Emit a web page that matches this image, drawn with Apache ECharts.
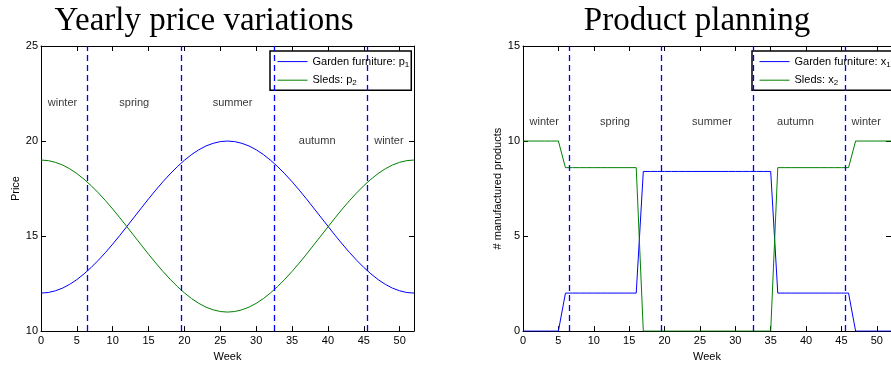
<!DOCTYPE html>
<html>
<head>
<meta charset="utf-8">
<script src="https://cdn.jsdelivr.net/npm/echarts@6/dist/echarts.min.js"></script>
<style>
  html, body { margin: 0; padding: 0; background: #fff; }
  #main { width: 891px; height: 367px; }
</style>
</head>
<body>
<div id="main"></div>
<script>
// weeks 0..52
const weeks = [0,1,2,3,4,5,6,7,8,9,10,11,12,13,14,15,16,17,18,19,20,21,22,23,24,25,26,
  27,28,29,30,31,32,33,34,35,36,37,38,39,40,41,42,43,44,45,46,47,48,49,50,51,52]

// yearly prices
const gardenPrice = [12.00,12.03,12.12,12.26,12.46,12.71,13.01,13.35,13.73,14.14,14.58,15.04,15.52,16.00,
  16.48,16.96,17.42,17.86,18.27,18.65,18.99,19.29,19.54,19.74,19.88,19.97,20.00,
  19.97,19.88,19.74,19.54,19.29,18.99,18.65,18.27,17.86,17.42,16.96,16.48,16.00,
  15.52,15.04,14.58,14.14,13.73,13.35,13.01,12.71,12.46,12.26,12.12,12.03,12.00]
const sledPrice = [19.00,18.97,18.88,18.74,18.54,18.29,17.99,17.65,17.27,16.86,16.42,15.96,15.48,15.00,
  14.52,14.04,13.58,13.14,12.73,12.35,12.01,11.71,11.46,11.26,11.12,11.03,11.00,
  11.03,11.12,11.26,11.46,11.71,12.01,12.35,12.73,13.14,13.58,14.04,14.52,15.00,
  15.48,15.96,16.42,16.86,17.27,17.65,17.99,18.29,18.54,18.74,18.88,18.97,19.00]

// production plan
const gardenProd = [0,0,0,0,0,0,2,2,2,2,2,2,2,2,2,2,2,8.4,8.4,8.4,8.4,8.4,8.4,8.4,8.4,8.4,8.4,
  8.4,8.4,8.4,8.4,8.4,8.4,8.4,8.4,8.4,2,2,2,2,2,2,2,2,2,2,2,0,0,0,0,0,0]
const sledProd = [10,10,10,10,10,10,8.6,8.6,8.6,8.6,8.6,8.6,8.6,8.6,8.6,8.6,8.6,0,0,0,0,0,0,0,0,0,0,
  0,0,0,0,0,0,0,0,0,8.6,8.6,8.6,8.6,8.6,8.6,8.6,8.6,8.6,8.6,8.6,10,10,10,10,10,10]

const seasonBounds = [6.5, 19.5, 32.5, 45.5]
const seasonNames = ['winter', 'spring', 'summer', 'autumn', 'winter']
const seasonWeek = [3, 13, 26.7, 38.5, 48.5]
const seasonYLeft = [22, 22, 22, 20, 20]
const seasonYRight = [11, 11, 11, 11, 11]

const BLUE = '#0000ff'
const GREEN = '#008000'
const FONT = 'Liberation Sans'

function pairs(xs, ys) {
  return xs.map((x, i) => [x, ys[i]])
}

function frameAxis(gi, pos, min, max, extra) {
  const ax = {
    gridIndex: gi,
    type: 'value',
    position: pos,
    min: min,
    max: max,
    interval: 5,
    axisLine: { show: true, onZero: false, lineStyle: { color: '#000', width: 1 } },
    axisTick: { show: true, inside: true, length: 5, lineStyle: { color: '#000' } },
    axisLabel: { show: false },
    splitLine: { show: false }
  }
  return Object.assign(ax, extra || {})
}

const tickLabel = { show: true, color: '#000', fontSize: 11, fontFamily: FONT, margin: 4 }
const nameStyle = { color: '#000', fontSize: 11, fontFamily: FONT }

const xAxes = []
const yAxes = []
;[0, 1].forEach(gi => {
  xAxes.push(frameAxis(gi, 'bottom', 0, 52, {
    axisLabel: Object.assign({}, tickLabel, { showMaxLabel: false }),
    name: 'Week', nameLocation: 'middle', nameGap: 16, nameTextStyle: nameStyle
  }))
  xAxes.push(frameAxis(gi, 'top', 0, 52))
})
yAxes.push(frameAxis(0, 'left', 10, 25, {
  axisLabel: Object.assign({}, tickLabel, { margin: 3 }),
  name: 'Price', nameLocation: 'middle', nameGap: 20, nameTextStyle: nameStyle
}))
yAxes.push(frameAxis(0, 'right', 10, 25))
yAxes.push(frameAxis(1, 'left', 0, 15, {
  axisLabel: Object.assign({}, tickLabel, { margin: 3 }),
  name: '# manufactured products', nameLocation: 'middle', nameGap: 20, nameTextStyle: nameStyle
}))
yAxes.push(frameAxis(1, 'right', 0, 15))

const seasonLines = {
  silent: true,
  symbol: 'none',
  label: { show: false },
  lineStyle: { color: BLUE, type: [6, 4], width: 1.3 },
  data: seasonBounds.map(w => ({ xAxis: w }))
}

function seasonSeries(xi, yi, ys) {
  return {
    type: 'scatter',
    xAxisIndex: xi,
    yAxisIndex: yi,
    symbolSize: 0,
    silent: true,
    data: seasonNames.map((n, i) => [seasonWeek[i], ys[i], n]),
    label: {
      show: true,
      position: 'inside',
      formatter: p => p.value[2],
      color: '#000',
      fontSize: 11,
      fontFamily: FONT
    }
  }
}

function lineSeries(name, xi, yi, data, color, withMarks) {
  const s = {
    name: name,
    type: 'line',
    xAxisIndex: xi,
    yAxisIndex: yi,
    symbol: 'none',
    data: data,
    lineStyle: { color: color, width: 1 },
    itemStyle: { color: color },
    z: 3
  }
  if (withMarks) s.markLine = seasonLines
  return s
}

const legendNames = {
  p1: '{t|Garden furniture: p}{s|1}',
  p2: '{t|Sleds: p}{s|2}',
  x1: '{t|Garden furniture: x}{s|1}',
  x2: '{t|Sleds: x}{s|2}'
}

function legend(left, names) {
  return {
    orient: 'vertical',
    left: left,
    top: 51,
    data: names,
    itemWidth: 30,
    itemHeight: 14,
    itemGap: 6,
    padding: [5, 2, 3, 7],
    borderColor: '#000',
    borderWidth: 1.5,
    backgroundColor: '#fff',
    selectedMode: false,
    itemStyle: { opacity: 0 },
    lineStyle: { width: 1 },
    formatter: n => legendNames[n],
    textStyle: {
      color: '#000',
      fontFamily: FONT,
      fontSize: 11,
      rich: {
        t: { fontSize: 11, fontFamily: FONT, color: '#000' },
        s: { fontSize: 8, fontFamily: FONT, color: '#000', padding: [6, 0, 0, 0] }
      }
    }
  }
}

const titleStyle = { fontFamily: 'Liberation Serif', fontWeight: 'normal', fontSize: 33, color: '#000' }

const option = {
  backgroundColor: '#fff',
  animation: false,
  title: [
    { text: 'Yearly price variations', left: 204, top: 5, padding: 0, textAlign: 'center', textStyle: titleStyle },
    { text: 'Product planning', left: 697, top: 5, padding: 0, textAlign: 'center', textStyle: titleStyle }
  ],
  grid: [
    { left: 41, top: 46, width: 373, height: 295 },
    { left: 523, top: 46, width: 373, height: 295 }
  ],
  legend: [legend(270, ['p1', 'p2']), legend(752, ['x1', 'x2'])],
  xAxis: xAxes,
  yAxis: yAxes,
  series: [
    lineSeries('p1', 0, 0, pairs(weeks, gardenPrice), BLUE, true),
    lineSeries('p2', 0, 0, pairs(weeks, sledPrice), GREEN, false),
    seasonSeries(0, 0, seasonYLeft),
    lineSeries('x1', 2, 2, pairs(weeks, gardenProd), BLUE, true),
    lineSeries('x2', 2, 2, pairs(weeks, sledProd), GREEN, false),
    seasonSeries(2, 2, seasonYRight)
  ]
}

const chart = echarts.init(document.getElementById('main'), null, { renderer: 'canvas' })
chart.setOption(option)
</script>
</body>
</html>
